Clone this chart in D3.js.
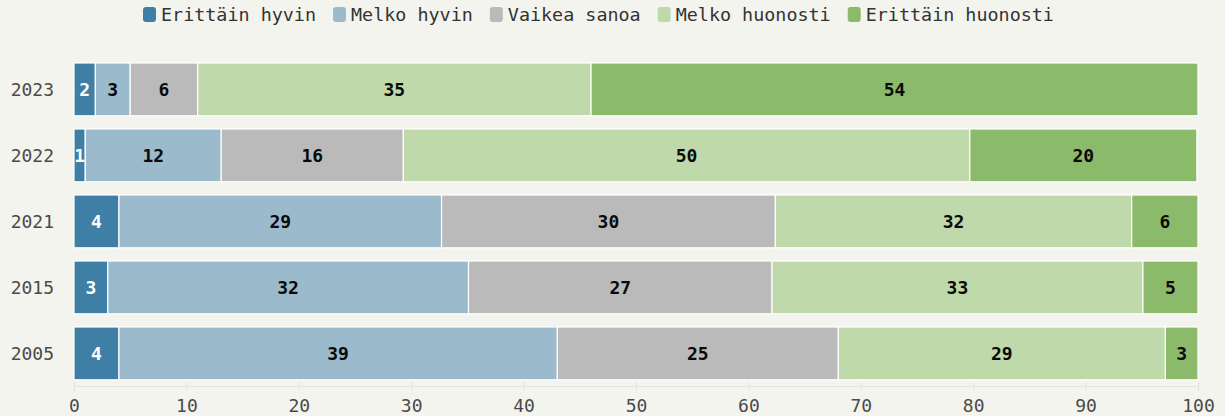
<!DOCTYPE html>
<html>
<head>
<meta charset="utf-8">
<script src="https://cdn.jsdelivr.net/npm/d3@7"></script>
<style>
  body { margin: 0; background: #f4f4ef; }
  svg { display: block; font-family: "DejaVu Sans Mono", monospace; }
</style>
</head>
<body>
<svg width="1225" height="416"></svg>
<script>
// data (percent shares, labels are rounded)
const years = ['2023', '2022', '2021', '2015', '2005'];
const keys = ['Erittäin hyvin', 'Melko hyvin', 'Vaikea sanoa', 'Melko huonosti', 'Erittäin huonosti'];
const colors = ['#3f7ea5', '#9bbacc', '#bababa', '#bfd9ab', '#8bba6a'];
const erittainHyvin = [1.9, 1.0, 4.0, 3.0, 4.0];
const melkoHyvin = [3.1, 12.1, 28.7, 32.1, 39.0];
const vaikeaSanoa = [6.0, 16.2, 29.7, 27.0, 25.0];
const melkoHuonosti = [35.0, 50.4, 31.7, 33.0, 29.1];
const erittainHuonosti = [54.0, 20.2, 5.9, 4.9, 2.9];
const ticks = [0, 10, 20, 30, 40, 50, 60, 70, 80, 90, 100];

const series = [erittainHyvin, melkoHyvin, vaikeaSanoa, melkoHuonosti, erittainHuonosti];
const rows = years.map((y, i) => {
    const r = {year: y};
    keys.forEach((k, j) => r[k] = series[j][i]);
    return r;
});

const svg = d3.select('svg');
const x = d3.scaleLinear().domain([0, 100]).range([74, 1198]);
const y = d3.scaleBand().domain(years).range([56.4, 386.4]).paddingInner(0.2).paddingOuter(0.1);
const stack = d3.stack().keys(keys)(rows);

// x axis
const xAxis = svg.append('g')
    .attr('transform', 'translate(0,386)')
    .call(d3.axisBottom(x).tickValues(ticks).tickSize(6).tickPadding(7));
xAxis.select('.domain').attr('stroke', '#e4e4dd');
xAxis.selectAll('.tick line').attr('stroke', '#e4e4dd').attr('y2', -4).attr('y1', 4);
xAxis.selectAll('.tick text').attr('fill', '#4a4a4a').style('font-size', '18px')
    .style('font-family', '"DejaVu Sans Mono", monospace');

// year labels
svg.append('g').selectAll('text')
    .data(years)
    .enter()
    .append('text')
    .attr('x', 54)
    .attr('y', d => y(d) + y.bandwidth() / 2)
    .attr('dy', '0.35em')
    .attr('text-anchor', 'end')
    .attr('fill', '#4a4a4a')
    .style('font-size', '18px')
    .text(d => d);

// bars
const layer = svg.append('g').selectAll('g')
    .data(stack)
    .enter()
    .append('g')
    .attr('fill', (d, i) => colors[i]);

layer.selectAll('rect')
    .data(d => d)
    .enter()
    .append('rect')
    .attr('x', d => x(d[0]))
    .attr('y', d => y(d.data.year))
    .attr('width', d => x(d[1]) - x(d[0]))
    .attr('height', y.bandwidth())
    .attr('stroke', '#fff')
    .attr('stroke-width', 1.2);

layer.each(function (s, i) {
    d3.select(this).selectAll('text')
        .data(s)
        .enter()
        .append('text')
        .attr('x', d => (x(d[0]) + x(d[1])) / 2)
        .attr('y', d => y(d.data.year) + y.bandwidth() / 2)
        .attr('dy', '0.36em')
        .attr('text-anchor', 'middle')
        .attr('fill', i == 0 ? '#fff' : '#0a0a0a')
        .style('font-size', '18px')
        .style('font-weight', 'bold')
        .text(d => Math.round(d[1] - d[0]));
});

// legend
const legend = svg.append('g');
let lx = 143;
keys.forEach((k, i) => {
    const item = legend.append('g').attr('transform', 'translate(' + lx + ',0)');
    item.append('rect')
        .attr('x', 0).attr('y', 7)
        .attr('width', 13).attr('height', 15)
        .attr('rx', 3)
        .attr('fill', colors[i]);
    const t = item.append('text')
        .attr('x', 18).attr('y', 15)
        .attr('dy', '0.35em')
        .attr('fill', '#333')
        .style('font-size', '18.4px')
        .text(k);
    lx += 18 + t.node().getComputedTextLength() + 17;
});
</script>
</body>
</html>
